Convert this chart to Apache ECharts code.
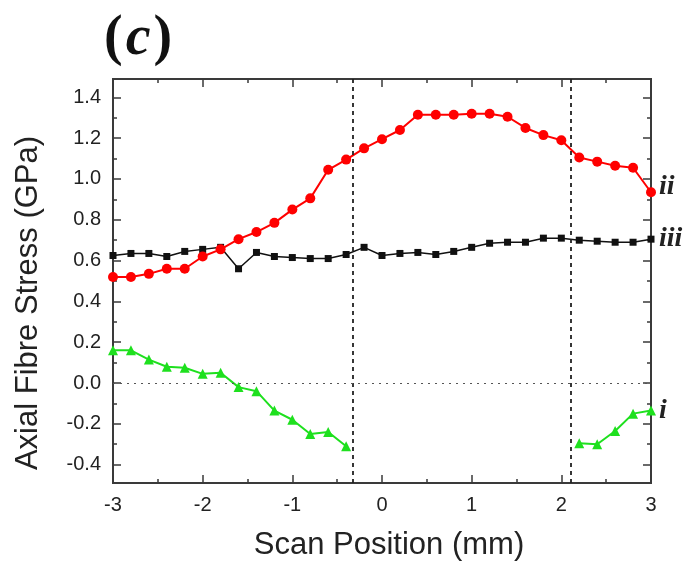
<!DOCTYPE html>
<html>
<head>
<meta charset="utf-8">
<script src="https://cdn.jsdelivr.net/npm/echarts@6/dist/echarts.min.js"></script>
<style>html,body{margin:0;padding:0;background:#fff}#c{width:688px;height:569px}</style>
</head>
<body>
<div id="c"></div>
<script>
// Scan positions (mm)
var positions = [-3.0,-2.8,-2.6,-2.4,-2.2,-2.0,-1.8,-1.6,-1.4,-1.2,-1.0,-0.8,-0.6,-0.4,-0.2,0.0,0.2,0.4,0.6,0.8,1.0,1.2,1.4,1.6,1.8,2.0,2.2,2.4,2.6,2.8,3.0];
// Series ii (red circles)
var stressII = [0.52,0.52,0.535,0.56,0.56,0.62,0.655,0.705,0.74,0.785,0.85,0.905,1.045,1.095,1.15,1.195,1.24,1.315,1.315,1.315,1.32,1.32,1.305,1.25,1.215,1.19,1.105,1.085,1.065,1.055,0.935];
// Series iii (black squares)
var stressIII = [0.625,0.635,0.635,0.62,0.645,0.655,0.665,0.56,0.64,0.62,0.615,0.61,0.61,0.63,0.665,0.625,0.635,0.64,0.63,0.645,0.665,0.685,0.69,0.69,0.71,0.71,0.7,0.695,0.69,0.69,0.705];
// Series i (green triangles), gap where not measured
var stressI = [0.16,0.16,0.115,0.08,0.075,0.045,0.05,-0.02,-0.04,-0.135,-0.18,-0.25,-0.24,-0.31,null,null,null,null,null,null,null,null,null,null,null,null,-0.295,-0.3,-0.235,-0.15,-0.135];
// Axis ticks
var xMajorTicks = [-3,-2,-1,0,1,2,3];
var xMinorTicks = [-2.5,-1.5,-0.5,0.5,1.5,2.5];
var yMajorTicks = [-0.4,-0.2,0.0,0.2,0.4,0.6,0.8,1.0,1.2,1.4];
var yMinorTicks = [-0.3,-0.1,0.1,0.3,0.5,0.7,0.9,1.1,1.3];
var boundaryLines = [-0.33, 2.1];
var seriesNames = ['i','ii','iii'];

function pairs(vals){ return positions.map(function(x,i){ return [x, vals[i]==null ? '-' : vals[i]]; }); }

var axisColor = '#3a3a3a';
var labelFont = 'Liberation Sans';
var chart = echarts.init(document.getElementById('c'));

function yAx(pos, ticks, len, showLabel){
  return {
    type:'value', position:pos, min:-0.49, max:1.49,
    axisLine:{show:true, onZero:false, lineStyle:{color:axisColor, width:2}},
    axisTick:{show:true, inside:true, length:len, customValues:ticks, lineStyle:{color:axisColor, width:1.5}},
    axisLabel:{show:showLabel, customValues:yMajorTicks, margin:12, fontSize:20, fontFamily:labelFont, color:'#222',
      formatter:function(v){ return v.toFixed(1); }},
    splitLine:{show:false}
  };
}
function xAx(pos, ticks, len, showLabel){
  return {
    type:'value', position:pos, min:-3, max:3,
    axisLine:{show:true, onZero:false, lineStyle:{color:axisColor, width:2}},
    axisTick:{show:true, inside:true, length:len, customValues:ticks, lineStyle:{color:axisColor, width:1.5}},
    axisLabel:{show:showLabel, customValues:xMajorTicks, margin:12, fontSize:20, fontFamily:labelFont, color:'#222'},
    splitLine:{show:false}
  };
}

var endFont = {fontFamily:'Liberation Serif', fontStyle:'italic', fontWeight:'bold', fontSize:28, color:'#222', distance:8};

chart.setOption({
  animation:false,
  backgroundColor:'#fff',
  grid:{left:113, right:37, top:79, bottom:86},
  xAxis:[xAx('bottom', xMajorTicks, 8, true), xAx('bottom', xMinorTicks, 4, false),
         xAx('top', xMajorTicks, 8, false), xAx('top', xMinorTicks, 4, false)],
  yAxis:[yAx('left', yMajorTicks, 8, true), yAx('left', yMinorTicks, 4, false),
         yAx('right', yMajorTicks, 8, false), yAx('right', yMinorTicks, 4, false)],
  graphic:[
    {type:'text', left:104, top:12, style:{rich:{
        p:{font:'bold 56px "Liberation Serif"', fill:'#111'},
        c:{font:'italic bold 56px "Liberation Serif"', fill:'#111', padding:[0,3,0,3]}},
      text:'{p|(}{c|c}{p|)}'}},
    {type:'text', x:28, y:303, rotation:Math.PI/2, style:{text:'Axial Fibre Stress (GPa)', align:'center', verticalAlign:'middle', font:'31px "Liberation Sans"', fill:'#222'}},
    {type:'text', x:389, y:545, style:{text:'Scan Position (mm)', align:'center', verticalAlign:'middle', font:'31px "Liberation Sans"', fill:'#222'}}
  ],
  series:[
    {name:seriesNames[2], type:'line', data:pairs(stressIII), symbol:'rect', symbolSize:7,
     lineStyle:{color:'#111', width:1.5}, itemStyle:{color:'#111'},
     endLabel:Object.assign({show:true, formatter:seriesNames[2]}, endFont),
     markLine:{silent:true, symbol:'none', label:{show:false}, animation:false,
       data:[
         {xAxis:boundaryLines[0], lineStyle:{color:'#222', type:[4,4], width:1.8}},
         {xAxis:boundaryLines[1], lineStyle:{color:'#222', type:[4,4], width:1.8}},
         {yAxis:0, lineStyle:{color:'#555', type:[2,5], width:1.2}}
       ]}},
    {name:seriesNames[1], type:'line', data:pairs(stressII), symbol:'circle', symbolSize:10,
     lineStyle:{color:'#ff0000', width:2}, itemStyle:{color:'#ff0000'},
     endLabel:Object.assign({show:true, formatter:seriesNames[1], offset:[0,-5]}, endFont)},
    {name:seriesNames[0], type:'line', data:pairs(stressI), symbol:'triangle', symbolSize:10, connectNulls:false,
     lineStyle:{color:'#1ee01e', width:2}, itemStyle:{color:'#1ee01e'},
     endLabel:Object.assign({show:true, formatter:seriesNames[0]}, endFont)}
  ]
});
</script>
</body>
</html>
